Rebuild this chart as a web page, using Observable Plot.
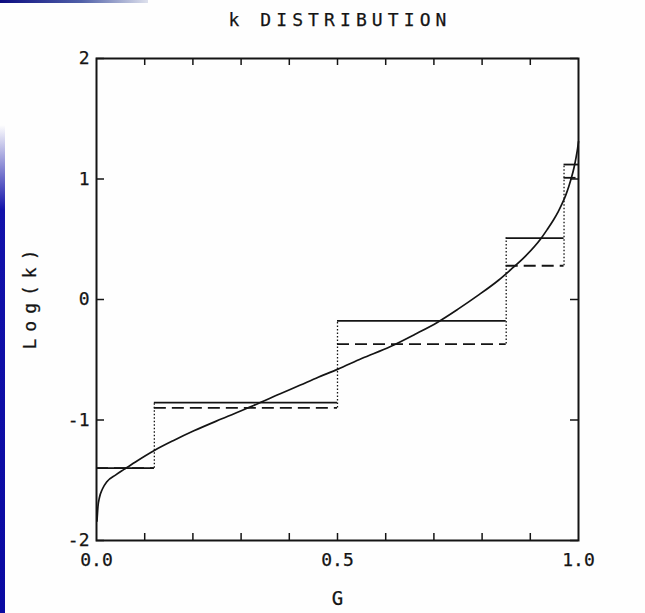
<!DOCTYPE html>
<html>
<head>
<meta charset="utf-8">
<script src="https://cdn.jsdelivr.net/npm/d3@7"></script>
<script src="https://cdn.jsdelivr.net/npm/@observablehq/plot@0.6"></script>
<style>
  html, body { margin: 0; padding: 0; background: #fff; }
  #wrap { position: relative; width: 645px; height: 613px; overflow: hidden; background: #fefefe; }
  #stripe { position: absolute; left: 0; top: 125px; width: 5px; height: 488px;
    background: linear-gradient(to bottom, rgba(16,16,170,0) 0px, #1212aa 85px, #0a0aa2 100%); }
  #topline { position: absolute; left: 0; top: 0; width: 148px; height: 3px;
    background: linear-gradient(to right, #0c0c80, #5060a8 55%, rgba(200,205,225,0.6)); }
  svg { display: block; }
</style>
</head>
<body>
<div id="wrap"><div id="topline"></div><div id="stripe"></div></div>
<script>
// ---- data ----
const curveG    = [0.001, 0.003, 0.006, 0.012, 0.022, 0.04, 0.057, 0.08, 0.119, 0.16, 0.202, 0.26, 0.326, 0.38, 0.423, 0.46, 0.5, 0.55, 0.61, 0.66, 0.707, 0.75, 0.79, 0.834, 0.86, 0.89, 0.921, 0.935, 0.948, 0.958, 0.966, 0.973, 0.98, 0.986, 0.991, 0.995, 0.998, 1.0];
const curveLogK = [-1.84, -1.72, -1.645, -1.575, -1.51, -1.455, -1.41, -1.35, -1.255, -1.17, -1.09, -0.99, -0.88, -0.785, -0.71, -0.645, -0.58, -0.49, -0.39, -0.29, -0.19, -0.08, 0.03, 0.16, 0.25, 0.36, 0.50, 0.58, 0.66, 0.73, 0.795, 0.86, 0.94, 1.02, 1.10, 1.18, 1.25, 1.31];

const stepEdges  = [0, 0.12, 0.5, 0.85, 0.97, 1.0];
const solidLogK  = [-1.40, -0.855, -0.178, 0.51, 1.12];
const dashedLogK = [-1.40, -0.90, -0.37, 0.28, 1.01];

const xMinorTicks  = [0.1, 0.2, 0.3, 0.4, 0.5, 0.6, 0.7, 0.8, 0.9];
const xLabelValues = [0, 0.5, 1];
const xLabels      = ["0.0", "0.5", "1.0"];
const yTickValues  = [-2, -1, 0, 1, 2];
const yLabels      = ["-2", "-1", "0", "1", "2"];

const titleText = "k DISTRIBUTION";
const xTitle = "G";
const yTitle = "Log(k)";

// ---- layout ----
const W = 645, H = 613, mL = 96, mR = 67, mT = 58, mB = 73;
const innerW = W - mL - mR, innerH = H - mT - mB;

const curve = curveG.map((g, i) => ({g, v: curveLogK[i]}));
const steps = solidLogK.map((s, i) => ({g0: stepEdges[i], g1: stepEdges[i + 1], solid: s, dashed: dashedLogK[i]}));
const joins = stepEdges.slice(1, -1).map((g, i) => {
  const a = [solidLogK[i], dashedLogK[i], solidLogK[i + 1], dashedLogK[i + 1]];
  return {g, lo: Math.min(...a), hi: Math.max(...a)};
});

const ink = "#141414";
const chart = Plot.plot({
  width: W, height: H,
  marginLeft: mL, marginRight: mR, marginTop: mT, marginBottom: mB,
  x: {domain: [0, 1], label: null},
  y: {domain: [-2, 2], label: null},
  style: {background: "transparent", fontFamily: "'DejaVu Sans Mono', monospace", fontSize: "18px", color: ink},
  marks: [
    Plot.ruleX(joins, {x: "g", y1: "lo", y2: "hi", stroke: ink, strokeWidth: 1.3, strokeDasharray: "1.5,2"}),
    Plot.ruleY(steps, {y: "dashed", x1: "g0", x2: "g1", stroke: ink, strokeWidth: 1.8, strokeDasharray: "12,6"}),
    Plot.ruleY(steps, {y: "solid", x1: "g0", x2: "g1", stroke: ink, strokeWidth: 1.8}),
    Plot.line(curve, {x: "g", y: "v", stroke: ink, strokeWidth: 1.7, curve: "monotone-x"}),
    Plot.tickX(xMinorTicks, {x: d => d, insetTop: innerH - 7, stroke: ink, strokeWidth: 1.5}),
    Plot.tickX(xMinorTicks, {x: d => d, insetBottom: innerH - 7, stroke: ink, strokeWidth: 1.5}),
    Plot.tickY(yTickValues, {y: d => d, insetRight: innerW - 8, stroke: ink, strokeWidth: 1.5}),
    Plot.tickY(yTickValues, {y: d => d, insetLeft: innerW - 8, stroke: ink, strokeWidth: 1.5}),
    Plot.axisX(xLabelValues, {anchor: "bottom", tickSize: 0, tickPadding: 13, fontSize: 18,
      tickFormat: d => xLabels[xLabelValues.indexOf(d)], label: null}),
    Plot.axisY(yTickValues, {anchor: "left", tickSize: 0, tickPadding: 7, fontSize: 18,
      tickFormat: d => yLabels[yTickValues.indexOf(d)], label: null}),
    Plot.frame({stroke: ink, strokeWidth: 2}),
    Plot.text([titleText], {frameAnchor: "top", lineAnchor: "middle", textAnchor: "middle", dy: -38, dx: 2.5, fontSize: 18}),
    Plot.text([yTitle], {frameAnchor: "left", lineAnchor: "middle", textAnchor: "middle", dx: -66, dy: -3.5, rotate: -90, fontSize: 18}),
    Plot.text([xTitle], {frameAnchor: "bottom", lineAnchor: "middle", textAnchor: "middle", dy: 58, fontSize: 19})
  ]
});
const svg = d3.select(chart);
svg.selectAll("text").filter(function() { return this.textContent === titleText; }).attr("letter-spacing", 5.1);
svg.selectAll("text").filter(function() { return this.textContent === yTitle; }).attr("letter-spacing", 7);
svg.selectAll("text").attr("stroke", ink).attr("stroke-width", 0.25).attr("paint-order", "normal");
svg.style("position", "absolute").style("left", "0px").style("top", "0px");
document.getElementById("wrap").appendChild(chart);
</script>
</body>
</html>
